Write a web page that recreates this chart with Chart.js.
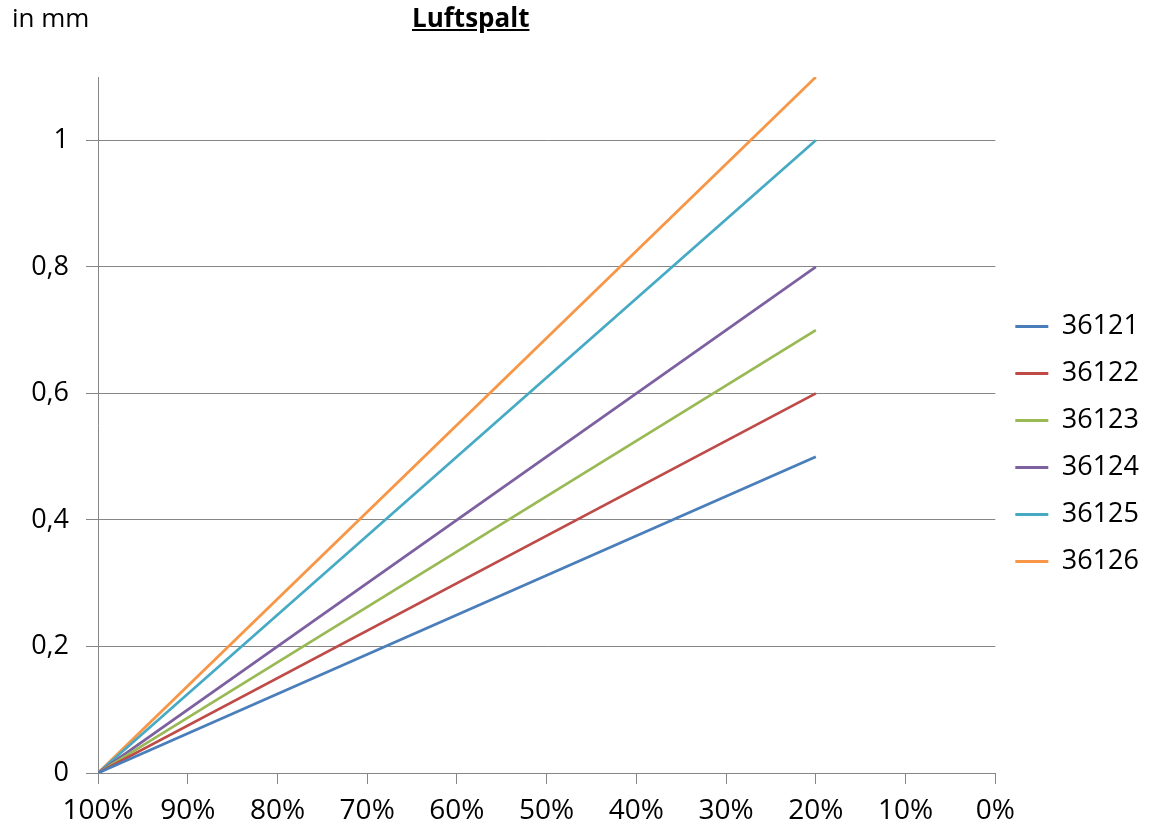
<!DOCTYPE html>
<html>
<head>
<meta charset="utf-8">
<script src="https://cdn.jsdelivr.net/npm/chart.js@4"></script>
<style>
    body { margin: 0; background: #fff; }
    #wrap { position: relative; width: 1149px; height: 823px; }
    .lbl { position: absolute; font-family: "Open Sans", sans-serif; color: #000; font-size: 26px; }
    #unit { left: 12px; top: -1px; }
    #titel { left: 412px; top: -1px; font-weight: bold; text-decoration: underline; }
</style>
</head>
<body>
<div id="wrap">
    <canvas id="myChart"></canvas>
    <div class="lbl" id="unit">in mm</div>
    <div class="lbl" id="titel">Luftspalt</div>
</div>
<script>
// Daten
const xWerte = [100, 20];
const serien = ['36121', '36122', '36123', '36124', '36125', '36126'];
const s36121 = [0, 0.5];
const s36122 = [0, 0.6];
const s36123 = [0, 0.7];
const s36124 = [0, 0.8];
const s36125 = [0, 1.0];
const s36126 = [0, 1.1];
const farben = ['#4A7EBB', '#BE4B48', '#98B954', '#7D60A0', '#46AAC5', '#F79646'];

const werte = [s36121, s36122, s36123, s36124, s36125, s36126];
const gitter = '#868686';

// Legende etwas nach oben schieben
const legendeHoch = {
    id: 'legendeHoch',
    afterLayout: function(chart) {
        chart.legend.top -= 6;
        chart.legend.bottom -= 6;
    }
};

const config = {
    type: 'line',
    data: {
        datasets: serien.map(function(name, i) {
            return {
                label: name,
                data: xWerte.map(function(x, j) { return { x: x, y: werte[i][j] }; }),
                borderColor: farben[i],
                backgroundColor: farben[i],
                borderWidth: 2.75,
                pointRadius: 0,
                tension: 0
            };
        })
    },
    options: {
        responsive: true,
        maintainAspectRatio: false,
        animation: false,
        layout: { padding: { top: 77, left: 31, right: 0, bottom: 0 } },
        scales: {
            x: {
                type: 'linear',
                reverse: true,
                min: 0,
                max: 100,
                afterFit: function(scale) { scale.height = 50; },
                ticks: {
                    stepSize: 10,
                    color: '#000',
                    padding: 13,
                    maxRotation: 0,
                    font: { family: 'Open Sans', size: 28, lineHeight: 1 },
                    callback: function(v) { return v + '%'; }
                },
                grid: { drawOnChartArea: false, drawTicks: true, tickLength: 11, color: gitter },
                border: { color: gitter }
            },
            y: {
                min: 0,
                max: 1.1,
                afterFit: function(scale) { scale.width = 67; },
                ticks: {
                    stepSize: 0.2,
                    includeBounds: false,
                    color: '#000',
                    padding: 17,
                    font: { family: 'Open Sans', size: 27 },
                    callback: function(v) { return v.toLocaleString('de-DE'); }
                },
                grid: { color: gitter, tickLength: 12 },
                border: { color: gitter }
            }
        },
        plugins: {
            legend: {
                position: 'right',
                labels: {
                    boxWidth: 33,
                    boxHeight: 3,
                    padding: 20,
                    color: '#000',
                    font: { family: 'Open Sans', size: 27 },
                    generateLabels: function(chart) {
                        return Chart.defaults.plugins.legend.labels.generateLabels(chart).map(function(l) {
                            l.lineWidth = 0;
                            return l;
                        });
                    }
                }
            },
            tooltip: { enabled: false }
        }
    },
    plugins: [legendeHoch]
};

var myChart = new Chart(document.getElementById('myChart'), config);
</script>
</body>
</html>
